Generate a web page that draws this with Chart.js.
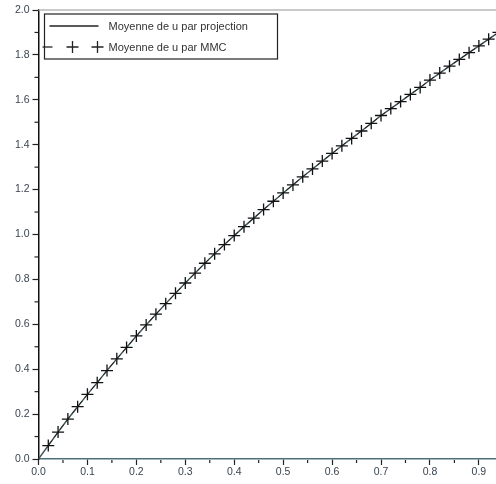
<!DOCTYPE html>
<html>
<head>
<meta charset="utf-8">
<script src="https://cdn.jsdelivr.net/npm/chart.js@4/dist/chart.umd.min.js"></script>
<style>
  html, body { margin: 0; padding: 0; background: #fff; }
  #wrap { width: 496px; height: 484px; }
</style>
</head>
<body>
<div id="wrap"><canvas id="graphe"></canvas></div>
<script>
// abscisses (pas de 0.02)
const xs = [0.00,0.02,0.04,0.06,0.08,0.10,0.12,0.14,0.16,0.18,0.20,0.22,0.24,0.26,0.28,0.30,0.32,0.34,0.36,0.38,0.40,0.42,0.44,0.46,0.48,0.50,0.52,0.54,0.56,0.58,0.60,0.62,0.64,0.66,0.68,0.70,0.72,0.74,0.76,0.78,0.80,0.82,0.84,0.86,0.88,0.90,0.92,0.94];
const projection = [0.000,0.060,0.120,0.178,0.233,0.288,0.340,0.394,0.446,0.497,0.548,0.597,0.645,0.692,0.738,0.784,0.828,0.872,0.914,0.955,0.995,1.035,1.073,1.111,1.148,1.185,1.221,1.257,1.292,1.327,1.361,1.395,1.428,1.461,1.495,1.530,1.561,1.592,1.624,1.655,1.688,1.719,1.750,1.780,1.810,1.840,1.870,1.900];
const mmc = [null,0.060,0.120,0.178,0.233,0.288,0.340,0.394,0.446,0.497,0.548,0.597,0.645,0.692,0.738,0.784,0.828,0.872,0.914,0.955,0.995,1.035,1.073,1.111,1.148,1.185,1.221,1.257,1.292,1.327,1.361,1.395,1.428,1.461,1.495,1.530,1.561,1.592,1.624,1.655,1.688,1.719,1.750,1.780,1.810,1.840,1.870,1.900];
const xTicks = [0,0.1,0.2,0.3,0.4,0.5,0.6,0.7,0.8,0.9];
const yTicks = [0,0.2,0.4,0.6,0.8,1.0,1.2,1.4,1.6,1.8,2.0];
const labels = ['Moyenne de u par projection', 'Moyenne de u par MMC'];

const toPts = arr => xs.map((x, i) => ({x: x, y: arr[i]}));

// petites graduations + cadre haut + légende encadrée
const decor = {
  id: 'decor',
  afterDraw(chart) {
    const ctx = chart.ctx, a = chart.chartArea;
    const sx = chart.scales.x, sy = chart.scales.y;
    ctx.save();
    // trait gris en haut
    ctx.strokeStyle = '#b8b8b8';
    ctx.lineWidth = 1.5;
    ctx.beginPath(); ctx.moveTo(a.left, a.top); ctx.lineTo(a.right, a.top); ctx.stroke();
    // graduations mineures
    ctx.strokeStyle = '#222';
    ctx.lineWidth = 1.2;
    for (let i = 0; i < yTicks.length - 1; i++) {
      const p = sy.getPixelForValue((yTicks[i] + yTicks[i + 1]) / 2);
      ctx.beginPath(); ctx.moveTo(a.left - 4, p); ctx.lineTo(a.left, p); ctx.stroke();
    }
    for (let i = 0; i < xTicks.length; i++) {
      const v = xTicks[i] + 0.05;
      if (v > sx.max) break;
      const p = sx.getPixelForValue(v);
      ctx.beginPath(); ctx.moveTo(p, a.bottom + 1); ctx.lineTo(p, a.bottom + 4); ctx.stroke();
    }
    // légende
    const lx = a.left + 6, ly = a.top + 4, lw = 233, lh = 45;
    ctx.fillStyle = '#fff';
    ctx.fillRect(lx, ly, lw, lh);
    ctx.strokeStyle = '#222';
    ctx.lineWidth = 1.2;
    ctx.strokeRect(lx, ly, lw, lh);
    ctx.lineWidth = 1.3;
    ctx.beginPath(); ctx.moveTo(lx + 5, ly + 12); ctx.lineTo(lx + 54, ly + 12); ctx.stroke();
    const y2 = ly + 33;
    ctx.beginPath(); ctx.moveTo(lx - 2, y2); ctx.lineTo(lx + 8, y2); ctx.stroke();
    [lx + 28, lx + 53].forEach(cx => {
      ctx.beginPath();
      ctx.moveTo(cx - 6, y2); ctx.lineTo(cx + 6, y2);
      ctx.moveTo(cx, y2 - 6); ctx.lineTo(cx, y2 + 6);
      ctx.stroke();
    });
    ctx.fillStyle = '#333';
    ctx.font = '11px "Liberation Sans", Arial, sans-serif';
    ctx.textBaseline = 'middle';
    ctx.fillText(labels[0], lx + 64, ly + 13);
    ctx.fillText(labels[1], lx + 64, y2 + 1);
    ctx.restore();
  }
};

new Chart(document.getElementById('graphe'), {
  type: 'scatter',
  data: {
    datasets: [
      {
        label: labels[0],
        data: toPts(projection),
        showLine: true,
        borderColor: '#3f5358',
        borderWidth: 1.4,
        pointRadius: 0,
        order: 2
      },
      {
        label: labels[1],
        data: toPts(mmc),
        showLine: true,
        borderColor: '#222',
        borderWidth: 1,
        borderDash: [6, 4],
        pointStyle: 'cross',
        pointRadius: 6,
        pointBorderColor: '#111',
        pointBorderWidth: 1.3,
        order: 1
      }
    ]
  },
  options: {
    responsive: true,
    maintainAspectRatio: false,
    animation: false,
    layout: { autoPadding: false, padding: { top: 10, right: 0, left: 0, bottom: 0 } },
    plugins: { legend: { display: false }, tooltip: { enabled: false } },
    scales: {
      x: {
        type: 'linear',
        min: 0, max: 0.935,
        afterFit: s => { s.height = 25; s.paddingRight = 0; },
        afterBuildTicks: s => { s.ticks = xTicks.map(v => ({value: v})); },
        border: { color: '#4d7078', width: 1.5 },
        grid: { drawOnChartArea: false, tickLength: 6, tickColor: '#222', tickWidth: 1.2 },
        ticks: {
          padding: 1,
          color: '#3a4450',
          font: { family: '"Liberation Sans", Arial, sans-serif', size: 10.5 },
          callback: v => v.toFixed(1)
        }
      },
      y: {
        type: 'linear',
        min: 0, max: 2.0,
        afterFit: s => { s.width = 38.5; },
        afterBuildTicks: s => { s.ticks = yTicks.map(v => ({value: v})); },
        border: { color: '#111', width: 1.5 },
        grid: { drawOnChartArea: false, tickLength: 6, tickColor: '#222', tickWidth: 1.2 },
        ticks: {
          padding: 3,
          color: '#3a4450',
          font: { family: '"Liberation Sans", Arial, sans-serif', size: 10.5 },
          callback: v => v.toFixed(1)
        }
      }
    }
  },
  plugins: [decor]
});
</script>
</body>
</html>
